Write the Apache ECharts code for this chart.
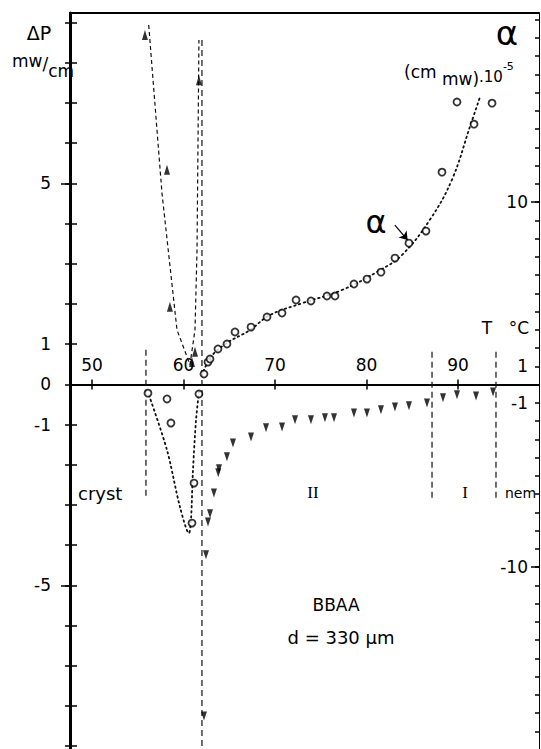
<!DOCTYPE html>
<html><head><meta charset="utf-8">
<script src="https://cdn.jsdelivr.net/npm/echarts@6/dist/echarts.min.js"></script>
<style>html,body{margin:0;padding:0;background:#fff}#c{width:541px;height:749px}</style>
</head><body><div id="c"></div>
<script>
// ---- data (T in °C) ----
const alphaUpT   = [62.24,62.68,62.90,63.77,64.75,65.63,67.38,69.13,70.77,72.30,73.93,75.68,76.56,78.63,80.05,81.58,83.11,84.64,86.50,88.25,91.75,89.89,93.72];
const alphaUpV   = [0.58,1.23,1.40,1.95,2.22,2.88,3.15,3.70,3.92,4.63,4.58,4.85,4.85,5.51,5.78,6.16,6.93,7.75,8.41,11.64,14.27,15.48,15.42];
const alphaLowT  = [56.12,58.20,58.63,61.69,61.15,60.93];
const alphaLowV  = [-0.47,-0.79,-2.11,-0.52,-5.40,-7.59];
const dpUpT      = [55.79,58.20,58.52,60.93,61.26,61.69];
const dpUpV      = [8.69,5.34,1.93,0.56,0.81,7.57];
const dpDownT    = [62.24,62.46,62.68,62.90,63.33,63.88,63.80,64.75,65.41,67.38,69.02,70.77,72.19,73.93,75.46,76.45,78.63,80.05,81.58,83.11,84.64,86.61,88.36,89.89,91.97,93.83];
const dpDownV    = [-8.25,-4.24,-3.42,-3.22,-2.70,-2.10,-2.20,-1.80,-1.46,-1.31,-1.08,-1.06,-0.88,-0.88,-0.83,-0.83,-0.71,-0.71,-0.63,-0.56,-0.53,-0.46,-0.33,-0.26,-0.29,-0.19];
// fitted curves drawn in the figure
const alphaFitUpT  = [62.02,62.90,64.54,67.27,69.45,73.06,77.32,81.48,83.88,86.94,89.34,91.31,92.40];
const alphaFitUpV  = [0.47,1.45,2.21,2.99,3.81,4.47,5.18,6.27,7.10,9.04,11.23,14.14,15.75];
const alphaFitLowT = [56.23,58.20,59.62,60.60,60.82,61.04,61.37,61.69];
const alphaFitLowV = [-0.58,-3.59,-6.71,-8.14,-7.42,-4.68,-1.95,-0.41];
const dpFitT       = [56.2,57.65,59.29,60.71,61.26,61.48,61.69];
const dpFitV       = [8.94,4.76,1.36,0.49,1.36,3.35,8.57];
// phase boundaries
const phaseT      = [55.90,62.02,87.16,94.15];
const phaseTop    = [0.86,8.57,0.81,0.81];
const phaseBottom = [-2.82,-9.07,-2.87,-2.87];
// annotation arrow (T, alpha)
const arrowFrom = [83.1,8.74];
const arrowTo   = [84.5,7.92];
// ticks
const xTicks = [50,60,70,80,90];
const dpTicks = [-9,-8,-7,-6,-5,-4,-3,-2,-1,0,1,2,3,4,5,6,7,8,9];
const dpLabels = [-5,-1,0,1,5];
const dpMajor = [-5,5];
const alphaTicks = [];
for (let v = -19; v <= 20; v++) alphaTicks.push(v);
const alphaLabels = [-10,-1,1,10];
const alphaMajor = [-10,10];

const zip = (a,b) => a.map((v,i) => [v,b[i]]);
const FONT = '"DejaVu Sans", sans-serif';
const XMIN = 47.6, XMAX = 98.85, DPMIN = -9.07, DPMAX = 9.24, AMIN = -19.97, AMAX = 20.36;
const GRID_TOP = 13, GRID_BOTTOM = 0, H = 749;
const plotH = H - GRID_TOP - GRID_BOTTOM;
const zeroOffset = -((0 - DPMIN) / (DPMAX - DPMIN)) * plotH; // move T-axis up to ΔP = 0

const chart = echarts.init(document.getElementById('c'), null, {renderer:'svg'});
const phaseSeries = phaseT.map((t,i) => ({
  type:'line', xAxisIndex:0, yAxisIndex:0, symbol:'none', silent:true, animation:false, z:1,
  data:[[t,phaseTop[i]],[t,phaseBottom[i]]],
  lineStyle:{color:'#111', width:1.2, type:[6,4]}
}));
const option = {
  animation:false,
  backgroundColor:'#fff',
  grid:{left:70, right:2, top:GRID_TOP, bottom:GRID_BOTTOM, containLabel:false},
  xAxis:[
    {type:'value', min:XMIN, max:XMAX, position:'bottom', offset:zeroOffset,
     axisLine:{show:true, onZero:false, lineStyle:{color:'#000', width:2}},
     axisTick:{show:true, inside:false, length:5, customValues:xTicks, lineStyle:{color:'#000', width:1.5}},
     axisLabel:{show:true, inside:true, margin:11, customValues:xTicks, color:'#000', fontSize:17, fontFamily:FONT},
     splitLine:{show:false}},
    {type:'value', min:XMIN, max:XMAX, position:'bottom', offset:zeroOffset,
     axisLine:{show:false, onZero:false},
     axisTick:{show:true, inside:true, length:5, customValues:xTicks, lineStyle:{color:'#000', width:1.5}},
     axisLabel:{show:false}, splitLine:{show:false}},
    {type:'value', min:XMIN, max:XMAX, position:'top',
     axisLine:{show:true, onZero:false, lineStyle:{color:'#000', width:2}},
     axisTick:{show:false}, axisLabel:{show:false}, splitLine:{show:false}}
  ],
  yAxis:[
    {type:'value', min:DPMIN, max:DPMAX, position:'left',
     axisLine:{show:true, onZero:false, lineStyle:{color:'#000', width:3}},
     axisTick:{show:true, inside:false, length:5, customValues:dpTicks, lineStyle:{color:'#000', width:1.5}},
     axisLabel:{show:true, margin:19, customValues:dpLabels, color:'#000', fontSize:17, fontFamily:FONT},
     splitLine:{show:false}},
    {type:'value', min:AMIN, max:AMAX, position:'right',
     axisLine:{show:true, onZero:false, lineStyle:{color:'#000', width:1}},
     axisTick:{show:true, inside:true, length:4, customValues:alphaTicks, lineStyle:{color:'#000', width:1.5}},
     axisLabel:{show:true, inside:true, margin:11, customValues:alphaLabels, color:'#000', fontSize:17, fontFamily:FONT},
     splitLine:{show:false}},
    {type:'value', min:DPMIN, max:DPMAX, position:'left',
     axisLine:{show:false, onZero:false},
     axisTick:{show:true, inside:true, length:7, customValues:dpTicks, lineStyle:{color:'#000', width:1.5}},
     axisLabel:{show:false}, splitLine:{show:false}},
    {type:'value', min:DPMIN, max:DPMAX, position:'left',
     axisLine:{show:false, onZero:false},
     axisTick:{show:true, inside:false, length:9, customValues:dpMajor, lineStyle:{color:'#000', width:1.5}},
     axisLabel:{show:false}, splitLine:{show:false}},
    {type:'value', min:AMIN, max:AMAX, position:'right',
     axisLine:{show:false, onZero:false},
     axisTick:{show:true, inside:true, length:8, customValues:alphaMajor, lineStyle:{color:'#000', width:1.5}},
     axisLabel:{show:false}, splitLine:{show:false}}
  ],
  series:[
    ...phaseSeries,
    {type:'line', name:'dpFit', xAxisIndex:0, yAxisIndex:0, symbol:'none', silent:true, z:2,
     data:zip(dpFitT, dpFitV), lineStyle:{color:'#111', width:1.2, type:[4,3]}},
    {type:'line', name:'alphaFitUp', xAxisIndex:0, yAxisIndex:1, symbol:'none', smooth:0.4, silent:true, z:2,
     data:zip(alphaFitUpT, alphaFitUpV), lineStyle:{color:'#111', width:1.8, type:[1.5,3.5], cap:'round'},
     markLine:{silent:true, symbol:['none','arrow'], symbolSize:8, animation:false,
       label:{show:false}, lineStyle:{color:'#000', width:1.2, type:'solid'},
       data:[[{coord:arrowFrom},{coord:arrowTo}]]}},
    {type:'line', name:'alphaFitLow', xAxisIndex:0, yAxisIndex:1, symbol:'none', smooth:0.3, silent:true, z:2,
     data:zip(alphaFitLowT, alphaFitLowV), lineStyle:{color:'#111', width:1.8, type:[1.5,3.5], cap:'round'}},
    {type:'scatter', name:'alphaUp', xAxisIndex:0, yAxisIndex:1, symbol:'circle', symbolSize:7, z:5,
     data:zip(alphaUpT, alphaUpV), itemStyle:{color:'#fff', borderColor:'#000', borderWidth:1.8}},
    {type:'scatter', name:'alphaLow', xAxisIndex:0, yAxisIndex:1, symbol:'circle', symbolSize:7, z:5,
     data:zip(alphaLowT, alphaLowV), itemStyle:{color:'#fff', borderColor:'#000', borderWidth:1.8}},
    {type:'scatter', name:'dpUp', xAxisIndex:0, yAxisIndex:0, symbol:'triangle', symbolSize:[6,10], z:5,
     data:zip(dpUpT, dpUpV), itemStyle:{color:'#000'}},
    {type:'scatter', name:'dpDown', xAxisIndex:0, yAxisIndex:0, symbol:'triangle', symbolRotate:180, symbolSize:[6,9], z:5,
     data:zip(dpDownT, dpDownV), itemStyle:{color:'#000'}}
  ],
  graphic:[
    {type:'text', x:39, y:33, style:{text:'ΔP', font:'19px '+FONT, fill:'#000', align:'center', verticalAlign:'middle'}},
    {type:'text', x:12, y:66, style:{text:'{a|mw}{b|/}{c|cm}', fill:'#000', align:'left', verticalAlign:'middle',
      rich:{a:{font:'17px '+FONT, padding:[0,0,10,0]}, b:{font:'17px '+FONT, padding:[0,0,4,0]}, c:{font:'17px '+FONT, padding:[10,0,0,0]}}}},
    {type:'text', x:507, y:33, style:{text:'α', font:'34px '+FONT, fill:'#000', align:'center', verticalAlign:'middle'}},
    {type:'text', x:404, y:75, style:{text:'{a|(cm}{b| mw)}{c|.10}{d|-5}', fill:'#000', align:'left', verticalAlign:'middle',
      rich:{a:{font:'17px '+FONT, padding:[0,0,6,0]}, b:{font:'17px '+FONT, padding:[8,0,0,0]}, c:{font:'15px '+FONT, padding:[4,0,0,0]}, d:{font:'11px '+FONT, padding:[0,0,17,0]}}}},
    {type:'text', x:487, y:328, style:{text:'T', font:'17px '+FONT, fill:'#000', align:'center', verticalAlign:'middle'}},
    {type:'text', x:519, y:328, style:{text:'°C', font:'17px '+FONT, fill:'#000', align:'center', verticalAlign:'middle'}},
    {type:'text', x:78, y:493, style:{text:'cryst', font:'18px '+FONT, fill:'#000', align:'left', verticalAlign:'middle'}},
    {type:'text', x:313, y:492, style:{text:'II', font:'17px Liberation Serif, serif', fill:'#000', align:'center', verticalAlign:'middle'}},
    {type:'text', x:465, y:492, style:{text:'I', font:'17px Liberation Serif, serif', fill:'#000', align:'center', verticalAlign:'middle'}},
    {type:'text', x:505, y:493, style:{text:'nem', font:'14px '+FONT, fill:'#000', align:'left', verticalAlign:'middle'}},
    {type:'text', x:336, y:605, style:{text:'BBAA', font:'17px '+FONT, fill:'#000', align:'center', verticalAlign:'middle'}},
    {type:'text', x:341, y:637, style:{text:'d = 330 μm', font:'18px '+FONT, fill:'#000', align:'center', verticalAlign:'middle'}},
    {type:'text', x:376, y:222, style:{text:'α', font:'32px '+FONT, fill:'#000', align:'center', verticalAlign:'middle'}}
  ]
};
chart.setOption(option);
</script>
</body></html>
